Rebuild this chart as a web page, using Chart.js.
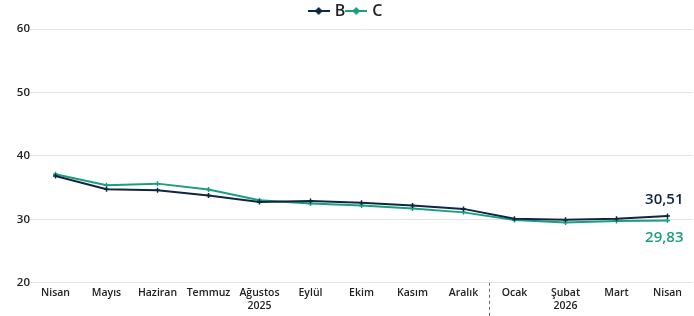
<!DOCTYPE html>
<html><head><meta charset="utf-8">
<script src="https://cdn.jsdelivr.net/npm/chart.js@4.4.1/dist/chart.umd.min.js"></script>
<style>html,body{margin:0;padding:0;background:#fff}#wrap{width:694px;height:316px}</style>
</head><body><div id="wrap"><canvas id="c"></canvas></div>
<script>
const categories = [['Nisan'],['Mayıs'],['Haziran'],['Temmuz'],['Ağustos','2025'],['Eylül'],['Ekim'],['Kasım'],['Aralık'],['Ocak'],['Şubat','2026'],['Mart'],['Nisan']];
const seriesB = [36.83, 34.76, 34.6, 33.76, 32.74, 32.9, 32.6, 32.2, 31.65, 30.1, 29.95, 30.1, 30.51];
const seriesC = [37.1, 35.38, 35.63, 34.7, 33.0, 32.5, 32.2, 31.7, 31.1, 29.9, 29.5, 29.75, 29.83];
const yTicks = [20, 30, 40, 50, 60];
const colB = '#0f2544', colC = '#1a9e80';
const FONT = "'Open Sans', 'Noto Sans', sans-serif";

function legendIcon(color){
  const cv = document.createElement('canvas'); cv.width = 22; cv.height = 10;
  const g = cv.getContext('2d');
  g.strokeStyle = color; g.lineWidth = 2;
  g.beginPath(); g.moveTo(0,5); g.lineTo(22,5); g.stroke();
  g.fillStyle = color; g.beginPath(); g.moveTo(11,1); g.lineTo(15,5); g.lineTo(11,9); g.lineTo(7,5); g.closePath(); g.fill();
  return cv;
}

const extras = {
  id: 'extras',
  afterDraw(chart){
    const ctx = chart.ctx, xs = chart.scales.x, ys = chart.scales.y;
    const xm = (xs.getPixelForValue(8) + xs.getPixelForValue(9)) / 2;
    ctx.save();
    ctx.strokeStyle = '#666'; ctx.lineWidth = 1; ctx.setLineDash([3,3]);
    ctx.beginPath(); ctx.moveTo(Math.round(xm)+0.5, chart.chartArea.bottom); ctx.lineTo(Math.round(xm)+0.5, 316); ctx.stroke();
    ctx.setLineDash([]);
    const last = seriesB.length - 1;
    const xl = xs.getPixelForValue(last);
    ctx.font = "600 15px " + FONT; ctx.textAlign = 'right'; ctx.textBaseline = 'middle';
    ctx.fillStyle = colB;
    ctx.fillText(seriesB[last].toFixed(2).replace('.', ','), xl + 16, ys.getPixelForValue(seriesB[last]) - 16);
    ctx.fillStyle = colC;
    ctx.fillText(seriesC[last].toFixed(2).replace('.', ','), xl + 16, ys.getPixelForValue(seriesC[last]) + 17);
    ctx.restore();
  }
};

new Chart(document.getElementById('c'), {
  type: 'line',
  data: {
    labels: categories,
    datasets: [
      {label: 'B', data: seriesB, borderColor: colB, backgroundColor: colB, borderWidth: 2, pointStyle: 'cross', pointRadius: 2.5, pointBorderWidth: 1.5, tension: 0},
      {label: 'C', data: seriesC, borderColor: colC, backgroundColor: colC, borderWidth: 2, pointStyle: 'cross', pointRadius: 2.5, pointBorderWidth: 1.5, tension: 0}
    ]
  },
  options: {
    responsive: true, maintainAspectRatio: false, animation: false,
    layout: {autoPadding: false, padding: {left: 0, right: 1, top: 0, bottom: 0}},
    plugins: {
      tooltip: {enabled: false},
      legend: {
        position: 'top',
        labels: {
          usePointStyle: true, boxWidth: 22, boxHeight: 10, padding: 3,
          font: {family: FONT, size: 16, weight: '600'}, color: '#222',
          generateLabels(chart){
            return chart.data.datasets.map((d, i) => ({text: d.label, pointStyle: legendIcon(d.borderColor), fillStyle: d.borderColor, strokeStyle: d.borderColor, lineWidth: 0, datasetIndex: i, fontColor: '#222'}));
          }
        }
      }
    },
    scales: {
      x: {
        offset: true,
        afterFit(s){ s.paddingRight = 0; s.paddingLeft = 0; },
        grid: {display: false, drawTicks: false, offset: true},
        border: {display: false},
        ticks: {font: {family: FONT, size: 10.5, weight: '600'}, color: '#222', padding: 4, maxRotation: 0, autoSkip: false}
      },
      y: {
        min: 20, max: 60,
        afterBuildTicks(s){ s.ticks = yTicks.map(v => ({value: v})); },
        afterFit(s){ s.width = 30; },
        grid: {color: '#e3e3e8', drawTicks: false, lineWidth: 1},
        border: {display: false},
        ticks: {font: {family: FONT, size: 11.5, weight: '600'}, color: '#222', padding: 0}
      }
    }
  },
  plugins: [extras]
});
</script></body></html>
